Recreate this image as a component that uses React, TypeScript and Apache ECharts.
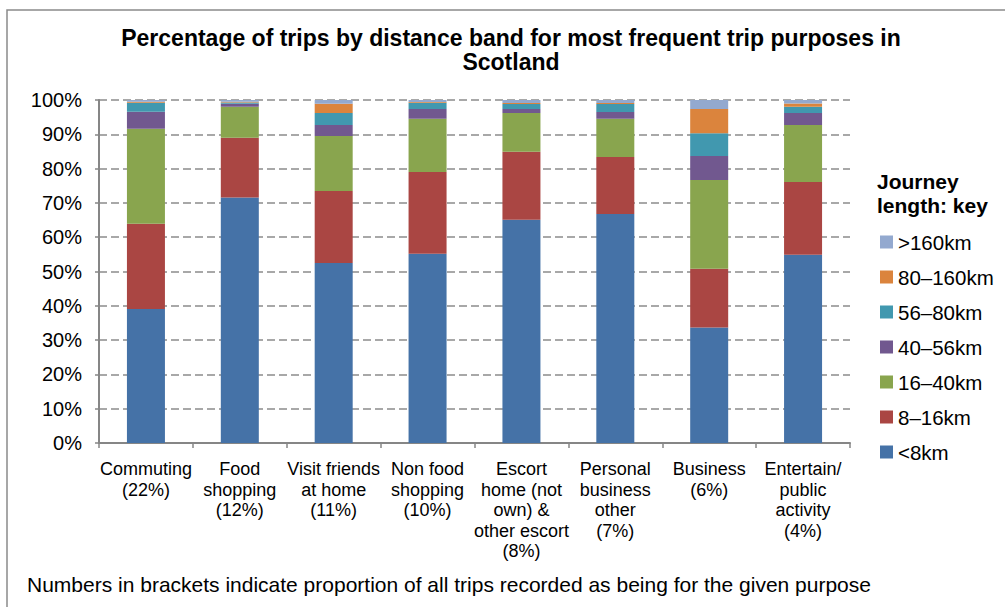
import React, { useEffect, useRef } from "react";
import * as echarts from "echarts";

const categories = [
  "Commuting\n(22%)",
  "Food\nshopping\n(12%)",
  "Visit friends\nat home\n(11%)",
  "Non food\nshopping\n(10%)",
  "Escort\nhome (not\nown) &\nother escort\n(8%)",
  "Personal\nbusiness\nother\n(7%)",
  "Business\n(6%)",
  "Entertain/\npublic\nactivity\n(4%)",
];

const bandNames = ["<8km", "8–16km", "16–40km", "40–56km", "56–80km", "80–160km", ">160km"];
const bandColors = ["#4572A7", "#AA4643", "#89A54E", "#71588F", "#4198AF", "#DB843D", "#93A9CF"];

const lt8 = [39.1, 71.6, 52.5, 55.2, 65.1, 66.8, 33.7, 54.9];
const b8to16 = [24.8, 17.4, 21.0, 23.8, 19.8, 16.6, 17.1, 21.2];
const b16to40 = [27.7, 9.0, 16.0, 15.5, 11.3, 11.1, 25.9, 16.6];
const b40to56 = [5.0, 0.9, 3.2, 2.9, 1.2, 2.0, 7.0, 3.5];
const b56to80 = [2.6, 0.4, 3.5, 1.8, 1.4, 2.3, 6.6, 1.8];
const b80to160 = [0.3, 0.2, 2.7, 0.2, 0.3, 0.3, 7.1, 1.0];
const gt160 = [0.5, 0.5, 1.1, 0.6, 0.9, 0.9, 2.6, 1.0];

const bandValues = [lt8, b8to16, b16to40, b40to56, b56to80, b80to160, gt160];

const titleText = "Percentage of trips by distance band for most frequent trip purposes in\nScotland";
const legendTitle = "Journey\nlength: key";
const footnote = "Numbers in brackets indicate proportion of all trips recorded as being for the given purpose";

const FONT = "'Liberation Sans', Arial, sans-serif";

export default function App() {
  const ref = useRef<HTMLDivElement>(null);

  useEffect(() => {
    if (!ref.current) return;
    const chart = echarts.init(ref.current, null, { renderer: "svg" });
    const series = bandNames.map((name, i) => ({
      name,
      type: "bar" as const,
      stack: "total",
      barWidth: 38,
      data: bandValues[i],
      itemStyle: { color: bandColors[i] },
    }));
    chart.setOption({
      animation: false,
      backgroundColor: "#ffffff",
      textStyle: { fontFamily: FONT },
      grid: { left: 99, right: 155, top: 100, bottom: 607 - 443, containLabel: false },
      xAxis: {
        type: "category",
        data: categories,
        axisLine: { show: true, lineStyle: { color: "#868686", width: 2 } },
        axisTick: { show: true, length: 5, lineStyle: { color: "#868686", width: 1.5 } },
        axisLabel: {
          interval: 0,
          margin: 16,
          color: "#000",
          fontSize: 18,
          lineHeight: 20.5,
          fontFamily: FONT,
          align: "center",
        },
      },
      yAxis: {
        type: "value",
        min: 0,
        max: 100,
        interval: 10,
        axisLine: { show: true, lineStyle: { color: "#868686", width: 2 } },
        axisTick: { show: true, length: 4, lineStyle: { color: "#868686", width: 1.5 } },
        axisLabel: {
          formatter: "{value}%",
          margin: 17,
          color: "#000",
          fontSize: 20,
          fontFamily: FONT,
        },
        splitLine: {
          show: true,
          lineStyle: { color: "#8c8c8c", width: 1.5, type: [8, 4] },
        },
      },
      legend: {
        orient: "vertical",
        left: 880,
        top: 231,
        padding: 0,
        itemWidth: 13,
        itemHeight: 13,
        itemGap: 13,
        icon: "rect",
        data: [...bandNames].reverse(),
        textStyle: { color: "#000", fontSize: 20.5, lineHeight: 22, fontFamily: FONT },
      },
      graphic: [
        {
          type: "rect",
          shape: { x: 7, y: 10, width: 1200, height: 800 },
          style: { fill: "none", stroke: "#8a8a8a", lineWidth: 1.5 },
          silent: true,
        },
        {
          type: "text",
          x: 511,
          y: 26,
          style: {
            text: titleText,
            textAlign: "center",
            textVerticalAlign: "top",
            font: `bold 23px ${FONT}`,
            lineHeight: 24,
            fill: "#000",
          },
        },
        {
          type: "text",
          x: 877,
          y: 169,
          style: {
            text: legendTitle,
            textAlign: "left",
            textVerticalAlign: "top",
            font: `bold 21px ${FONT}`,
            lineHeight: 24,
            fill: "#000",
          },
        },
        {
          type: "text",
          x: 27,
          y: 584,
          style: {
            text: footnote,
            textAlign: "left",
            textVerticalAlign: "middle",
            font: `21px ${FONT}`,
            fill: "#000",
          },
        },
      ],
      series,
    });
    return () => chart.dispose();
  }, []);

  return (
    <div
      ref={ref}
      style={{ position: "absolute", left: 0, top: 0, width: 1005, height: 607, background: "#fff" }}
    />
  );
}
